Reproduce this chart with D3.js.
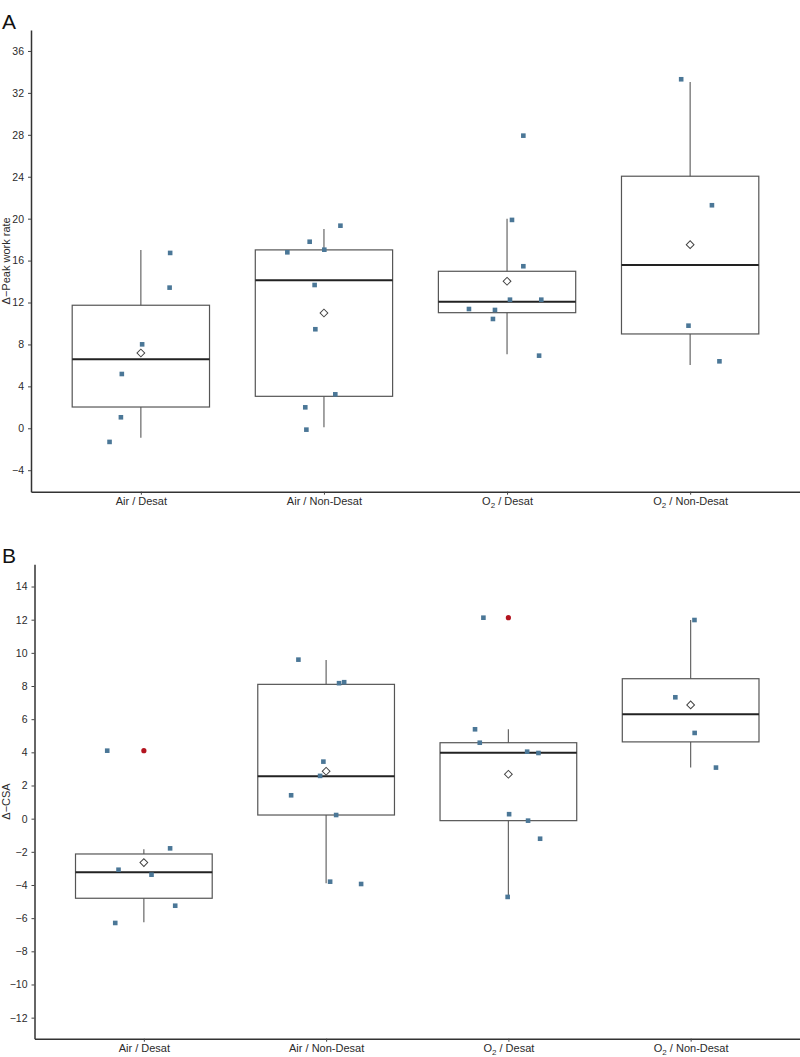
<!DOCTYPE html>
<html>
<head>
<meta charset="utf-8">
<script src="https://cdn.jsdelivr.net/npm/d3@7"></script>
<style>
  body { margin: 0; background: #fff; }
  svg { display: block; font-family: "Liberation Sans", Arial, sans-serif; }
</style>
</head>
<body>
<svg id="chart" width="800" height="1057"></svg>
<script>
// ---------- DATA ----------
const categories = ["Air / Desat", "Air / Non-Desat", "O2 / Desat", "O2 / Non-Desat"];

// Panel A: Δ-Peak work rate
const peakTicks = [-4, 0, 4, 8, 12, 16, 20, 24, 28, 32, 36];
const peakQ1 = [2.03, 3.05, 11.03, 9.0];
const peakMedian = [6.58, 14.12, 12.08, 15.58];
const peakQ3 = [11.74, 17.02, 14.98, 24.05];
const peakWhiskerLow = [-0.9, 0.1, 7.06, 6.04];
const peakWhiskerHigh = [17.0, 19.02, 20.0, 33.04];
const peakMean = [7.18, 11.0, 14.03, 17.52];
const peakOutliers = [[], [], [], []];
const peakValues = [
  [16.73, 13.42, 8.01, 5.18, 1.05, -1.3],
  [19.33, 17.8, 16.79, 17.04, 13.67, 9.45, 3.24, 2.0, -0.13],
  [27.92, 19.88, 15.46, 12.27, 12.27, 11.38, 11.29, 10.43, 6.93],
  [33.3, 21.28, 9.79, 6.39]
];
const peakJitter = [
  [0.16, 0.157, 0.007, -0.104, -0.109, -0.171],
  [0.09, -0.078, -0.2, 0.002, -0.051, -0.047, 0.062, -0.102, -0.096],
  [0.089, 0.027, 0.089, 0.016, 0.187, -0.208, -0.066, -0.077, 0.175],
  [-0.049, 0.119, -0.009, 0.16]
];

// Panel B: Δ-CSA
const csaTicks = [-12, -10, -8, -6, -4, -2, 0, 2, 4, 6, 8, 10, 12, 14];
const csaQ1 = [-4.8, 0.22, -0.12, 4.63];
const csaMedian = [-3.23, 2.56, 3.98, 6.3];
const csaQ3 = [-2.13, 8.1, 4.58, 8.44];
const csaWhiskerLow = [-6.25, -3.9, -4.65, 3.08];
const csaWhiskerHigh = [-1.85, 9.57, 5.39, 11.98];
const csaMean = [-2.65, 2.86, 2.68, 6.86];
const csaOutliers = [[4.1], [], [12.12], []];
const csaValues = [
  [4.1, -1.79, -3.08, -3.38, -5.25, -6.29],
  [9.59, 8.17, 8.23, 3.44, 2.58, 1.41, 0.22, -3.8, -3.94],
  [12.12, 5.39, 4.58, 4.04, 3.96, 0.27, -0.12, -1.21, -4.72],
  [11.98, 7.32, 5.17, 3.08]
];
const csaJitter = [
  [-0.201, 0.144, -0.139, 0.042, 0.172, -0.157],
  [-0.152, 0.071, 0.099, -0.015, -0.033, -0.192, 0.055, 0.022, 0.192],
  [-0.137, -0.183, -0.157, 0.103, 0.165, 0.004, 0.108, 0.174, -0.004],
  [0.021, -0.084, 0.022, 0.139]
];

// ---------- DRAW ----------
const svg = d3.select("#chart");
const pointColor = "#4b7797";
const outlierColor = "#b3141f";

function drawPanel(cfg) {
  const g = svg.append("g");
  const x = d3.scalePoint().domain(categories).range([cfg.left, cfg.right]).padding(0.6);
  const y = d3.scaleLinear().domain(cfg.domain).range([cfg.bottom, cfg.top]);
  const step = x.step();
  const bw = step * 0.75;

  const stats = categories.map((c, i) => ({
    c, i,
    q1: cfg.q1[i], med: cfg.median[i], q3: cfg.q3[i],
    lo: cfg.wlo[i], hi: cfg.whi[i], mean: cfg.mean[i]
  }));

  const boxes = g.append("g");
  boxes.selectAll(".wu").data(stats).join("line")
    .attr("x1", d => x(d.c)).attr("x2", d => x(d.c))
    .attr("y1", d => y(d.q3)).attr("y2", d => y(d.hi))
    .attr("stroke", "#666").attr("stroke-width", 1.2);
  boxes.selectAll(".wl").data(stats).join("line")
    .attr("x1", d => x(d.c)).attr("x2", d => x(d.c))
    .attr("y1", d => y(d.q1)).attr("y2", d => y(d.lo))
    .attr("stroke", "#666").attr("stroke-width", 1.2);
  boxes.selectAll(".box").data(stats).join("rect")
    .attr("x", d => x(d.c) - bw / 2).attr("width", bw)
    .attr("y", d => y(d.q3)).attr("height", d => y(d.q1) - y(d.q3))
    .attr("fill", "none").attr("stroke", "#555").attr("stroke-width", 1.2);
  boxes.selectAll(".med").data(stats).join("line")
    .attr("x1", d => x(d.c) - bw / 2).attr("x2", d => x(d.c) + bw / 2)
    .attr("y1", d => y(d.med)).attr("y2", d => y(d.med))
    .attr("stroke", "#222").attr("stroke-width", 2);
  const outs = [];
  cfg.outliers.forEach((arr, i) => arr.forEach(v => outs.push({ c: categories[i], v })));
  boxes.selectAll(".out").data(outs).join("circle")
    .attr("cx", d => x(d.c)).attr("cy", d => y(d.v)).attr("r", 2.6)
    .attr("fill", outlierColor);

  const pts = [];
  cfg.values.forEach((arr, i) => arr.forEach((v, j) => pts.push({ c: categories[i], v, jx: cfg.jitter[i][j] })));
  const s = 4.6;
  g.append("g").selectAll("rect").data(pts).join("rect")
    .attr("x", d => x(d.c) + d.jx * step - s / 2)
    .attr("y", d => y(d.v) - s / 2)
    .attr("width", s).attr("height", s)
    .attr("fill", pointColor);

  const diamond = d3.symbol(d3.symbolSquare, 30)();
  g.append("g").selectAll("path").data(stats).join("path")
    .attr("d", diamond)
    .attr("transform", d => `translate(${x(d.c)},${y(d.mean)}) rotate(45)`)
    .attr("fill", "#fff").attr("stroke", "#444").attr("stroke-width", 1);

  const yAxis = g.append("g").attr("transform", `translate(${cfg.left},0)`)
    .call(d3.axisLeft(y).tickValues(cfg.ticks).tickSize(3).tickPadding(cfg.tickPad).tickSizeOuter(0));
  const xAxis = g.append("g").attr("transform", `translate(0,${cfg.bottom})`)
    .call(d3.axisBottom(x).tickSize(3).tickPadding(3).tickSizeOuter(0));
  [yAxis, xAxis].forEach(a => {
    a.select(".domain").attr("stroke", "#333").attr("stroke-width", 1.5);
    a.selectAll(".tick line").attr("stroke", "#444");
    a.selectAll(".tick text").attr("fill", "#2b2b2b").attr("font-size", 11)
      .attr("font-family", '"Liberation Sans", Arial, sans-serif');
  });
  yAxis.selectAll(".tick text").attr("font-size", 10.5);
  xAxis.selectAll(".tick text").each(function (d) {
    if (d.startsWith("O2")) {
      const t = d3.select(this);
      t.text(null);
      t.append("tspan").text("O");
      t.append("tspan").text("2").attr("font-size", 8).attr("dy", "2.2");
      t.append("tspan").text(d.slice(2)).attr("dy", "-2.2");
    }
  });

  g.append("text")
    .attr("transform", `translate(${cfg.labelX},${(cfg.top + cfg.bottom) / 2}) rotate(-90)`)
    .attr("text-anchor", "middle").attr("dominant-baseline", "central")
    .attr("font-size", 11).attr("fill", "#2b2b2b")
    .text(cfg.ylabel);

  g.append("text").attr("x", 2).attr("y", cfg.letterY)
    .attr("font-size", 21).attr("fill", "#111")
    .text(cfg.letter);
}

drawPanel({
  left: 31, right: 800, top: 30, bottom: 491.7, domain: [-6.05, 38],
  ticks: peakTicks, tickPad: 4, q1: peakQ1, median: peakMedian, q3: peakQ3,
  wlo: peakWhiskerLow, whi: peakWhiskerHigh, mean: peakMean,
  outliers: peakOutliers, values: peakValues, jitter: peakJitter,
  ylabel: "Δ−Peak work rate", labelX: 6, letter: "A", letterY: 29
});

drawPanel({
  left: 34.5, right: 800, top: 564.3, bottom: 1038.7, domain: [-13.27, 15.34],
  ticks: csaTicks, tickPad: 4, q1: csaQ1, median: csaMedian, q3: csaQ3,
  wlo: csaWhiskerLow, whi: csaWhiskerHigh, mean: csaMean,
  outliers: csaOutliers, values: csaValues, jitter: csaJitter,
  ylabel: "Δ−CSA", labelX: 6, letter: "B", letterY: 563
});
</script>
</body>
</html>
